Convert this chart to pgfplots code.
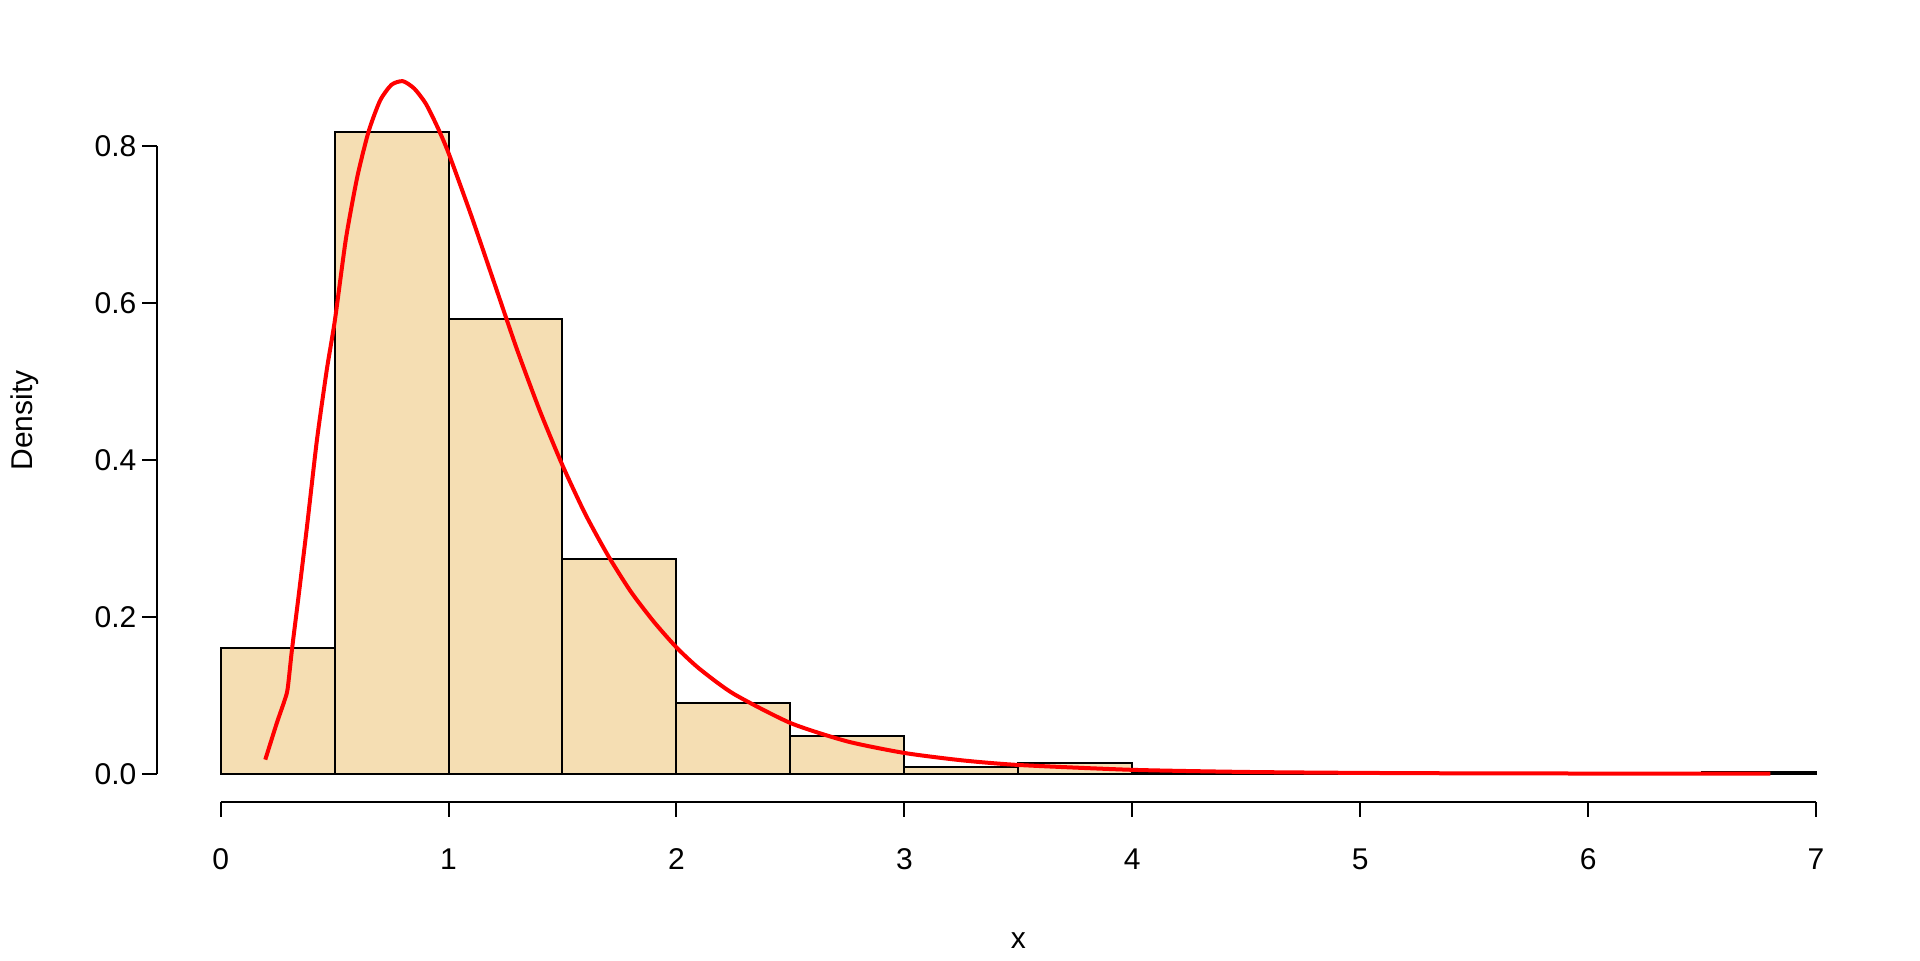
\documentclass[border=0pt]{standalone}
\usepackage{pgfplots}
\pgfplotsset{compat=1.18}
\usepackage{fontspec}
\setmainfont{Liberation Sans}
\definecolor{wheat}{HTML}{F5DEB3}
\begin{document}
\begin{tikzpicture}
\path[use as bounding box] (-78.4pt,-79pt) rectangle (881.6pt,401pt);
\begin{axis}[
  scale only axis, width=861.5pt, height=381.4pt,
  xmin=-0.28, xmax=7.28, ymin=-0.036, ymax=0.936,
  clip=false,
  axis x line*=bottom, axis y line*=left,
  axis line style={draw=none},
  xtick={0,1,2,3,4,5,6,7}, ytick={0,0.2,0.4,0.6,0.8},
  tick align=outside, major tick length=7.35pt,
  tick style={black, line width=1pt},
  font=\fontsize{15}{18}\selectfont,
  /pgf/number format/assume math mode=true,
  yticklabel style={/pgf/number format/fixed, /pgf/number format/fixed zerofill, /pgf/number format/precision=1, xshift=0.7pt},
  xticklabel style={yshift=-12.5pt},
  every axis x label/.style={at={(axis description cs:0.5,-0.181)}, anchor=center},
  every axis y label/.style={at={(axis description cs:-0.0766,0.5)}, anchor=center, rotate=90},
  xlabel={x}, ylabel={Density},
]
\addplot[ybar interval, fill=wheat, draw=black, line width=1pt] coordinates {
  (0,0.16) (0.5,0.818) (1,0.58) (1.5,0.274) (2,0.09) (2.5,0.048) (3,0.008) (3.5,0.014)
  (4,0.002) (4.5,0.002) (5,0) (5.5,0) (6,0) (6.5,0.002) (7,0.002)
};
\addplot[red, line width=2pt, line join=round, smooth, tension=0.4] coordinates {
  (0.196,0.018) (0.247,0.065) (0.279,0.092) (0.294,0.108) (0.313,0.158) (0.342,0.226)
  (0.379,0.315) (0.4225,0.425) (0.466,0.515) (0.5015,0.578)
  (0.55,0.682) (0.6,0.761) (0.65,0.819) (0.7,0.858) (0.75,0.878) (0.8,0.8825)
  (0.85,0.873) (0.9,0.854) (0.95,0.825) (1.0,0.791) (1.1,0.711) (1.2,0.626)
  (1.3,0.541) (1.4,0.463) (1.5,0.393) (1.6,0.331) (1.7,0.278) (1.8,0.232)
  (1.9,0.194) (2.0,0.161) (2.1,0.134) (2.25,0.102) (2.5,0.0647) (2.75,0.0412)
  (3,0.0265) (3.25,0.0172) (3.5,0.0112)
  (4,0.0050) (4.5,0.0023) (5,0.0011) (5.5,0.0005) (6,0.0003) (6.5,0.0001) (6.8,0.0001)
};
\draw[line width=1pt] (axis cs:0,-0.036) -- (axis cs:7,-0.036);
\draw[line width=1pt] (axis cs:-0.28,0) -- (axis cs:-0.28,0.8);
\end{axis}
\end{tikzpicture}
\end{document}
